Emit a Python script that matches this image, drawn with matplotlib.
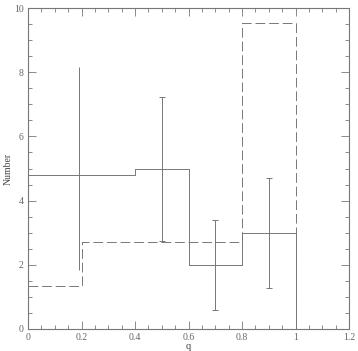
import numpy as np
import matplotlib
matplotlib.use('Agg')
import matplotlib.pyplot as plt
from matplotlib.ticker import MultipleLocator

# histogram bins
edges = [0.0, 0.2, 0.4, 0.6, 0.8, 1.0]
solid_counts = [4.8, 4.8, 5.0, 2.0, 3.0]
dashed_counts = [1.35, 2.72, 2.72, 2.72, 9.52]

# error bars
err_x = [0.19, 0.5, 0.7, 0.9]
err_y = [5.0, 5.0, 2.0, 3.0]
err_lo = [3.16, 2.26, 1.41, 1.73]
err_hi = [3.16, 2.24, 1.40, 1.71]
err_caps = [0, 2, 2, 2]

col = '#777777'
plt.rcParams['font.family'] = ['Liberation Serif', 'DejaVu Serif']

fig = plt.figure(figsize=(3.58, 3.51), dpi=100)
ax = fig.add_axes([28/358, 22/351, 321/358, 321/351])

def step_xy(e, c):
    xs = [e[0]]
    ys = [c[0]]
    for i in range(len(c)):
        xs += [e[i], e[i+1]]
        ys += [c[i], c[i]]
    xs.append(e[-1])
    ys.append(0)
    return xs[1:], ys[1:]

xs, ys = step_xy(edges, solid_counts)
ax.plot(xs, ys, color=col, lw=0.7)
xs, ys = step_xy(edges, dashed_counts)
ax.plot(xs, ys, color=col, lw=0.7, dashes=(10, 4))

for x, y, lo, hi, cs in zip(err_x, err_y, err_lo, err_hi, err_caps):
    ax.errorbar([x], [y], yerr=[[lo], [hi]], fmt='none', ecolor=col,
                elinewidth=0.7, capsize=cs, capthick=0.7)

ax.set_xlim(0, 1.2)
ax.set_ylim(0, 10)
ax.xaxis.set_major_locator(MultipleLocator(0.2))
ax.xaxis.set_minor_locator(MultipleLocator(0.05))
ax.yaxis.set_major_locator(MultipleLocator(2))
ax.yaxis.set_minor_locator(MultipleLocator(0.5))
ax.set_xticks([0, 0.2, 0.4, 0.6, 0.8, 1.0, 1.2])
ax.set_xticklabels(['0', '0.2', '0.4', '0.6', '0.8', '1', '1.2'])
ax.tick_params(which='both', direction='in', top=True, right=True,
               colors=col, labelsize=7, labelcolor='#666666', width=0.6)
ax.tick_params(which='major', length=6, pad=3)
ax.tick_params(which='minor', length=3)
for s in ax.spines.values():
    s.set_color(col)
    s.set_linewidth(0.8)
ax.set_ylabel('Number', fontsize=7, color='#444444', labelpad=1)
ax.set_xlabel('q', fontsize=7.5, color='#444444', labelpad=0)

fig.savefig('out.png', dpi=100)
